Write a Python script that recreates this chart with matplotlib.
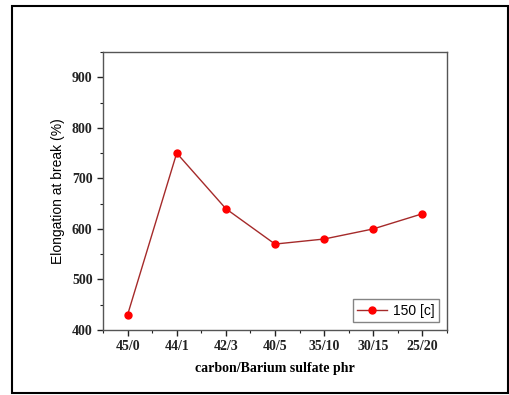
import matplotlib
matplotlib.use("Agg")
import matplotlib.pyplot as plt
from matplotlib.patches import Rectangle
from matplotlib.ticker import MultipleLocator

categories = ["45/0", "44/1", "42/3", "40/5", "35/10", "30/15", "25/20"]
values = [430, 750, 640, 570, 580, 600, 630]
series_name = "150 [c]"

fig = plt.figure(figsize=(5.1, 3.95), dpi=100)
fig.patches.append(Rectangle((12/510, 1-393/395), (508-12)/510, (393-6)/395,
                             transform=fig.transFigure, fill=False,
                             edgecolor="black", linewidth=1.5))
ax = fig.add_axes([103/510, 1-330/395, (447-103)/510, (330-52)/395])
x = list(range(len(categories)))
ax.plot(x, values, color="#a52a2a", linewidth=1.0, marker="o",
        markersize=5, markerfacecolor="red", markeredgecolor="red",
        label=series_name)
ax.set_xlim(-0.5, len(categories) - 0.5)
ax.set_ylim(400, 950)
ax.set_xticks(x)
ax.set_xticklabels(categories)
ax.xaxis.set_minor_locator(MultipleLocator(0.5))
ax.yaxis.set_major_locator(MultipleLocator(100))
ax.yaxis.set_minor_locator(MultipleLocator(50))
for lbl in ax.get_xticklabels() + ax.get_yticklabels():
    lbl.set_family("Liberation Serif")
    lbl.set_fontweight("bold")
    lbl.set_fontsize(10)
ax.tick_params(axis="both", which="major", direction="out", length=4, width=1, colors="#222222")
ax.tick_params(axis="both", which="minor", direction="out", length=2, width=0.8, colors="#222222")
for s in ax.spines.values():
    s.set_color("#555555")
    s.set_linewidth(1.0)
ax.set_xlabel("carbon/Barium sulfate phr", family="Liberation Serif",
              fontweight="bold", fontsize=10, labelpad=6)
ax.set_ylabel("Elongation at break (%)", family="Liberation Sans",
              fontsize=10, labelpad=5)
leg = ax.legend(loc="lower right", prop={"family": "Liberation Sans", "size": 10},
                frameon=True, fancybox=False, borderaxespad=0.6,
                handlelength=2.2, handletextpad=0.4, borderpad=0.3)
leg.get_frame().set_edgecolor("#666666")
leg.get_frame().set_linewidth(1.0)
fig.savefig("out.png", dpi=100)
